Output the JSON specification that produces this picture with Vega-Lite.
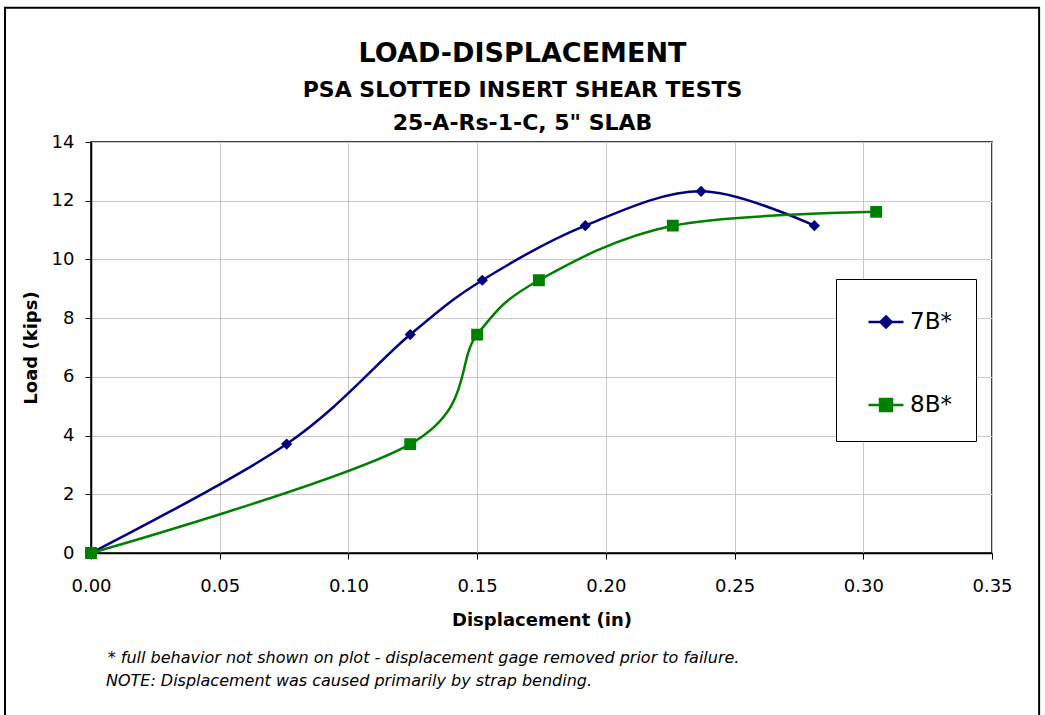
{
  "$schema": "https://vega.github.io/schema/vega-lite/v6.json",
  "autosize": {"type": "none"},
  "padding": {"left": 91, "top": 142, "right": 53, "bottom": 162},
  "width": 901,
  "height": 411,
  "background": "white",
  "config": {
    "font": "DejaVu Sans",
    "view": {"stroke": "black", "strokeWidth": 1.5},
    "axis": {
      "labelFont": "DejaVu Sans",
      "labelFontSize": 18,
      "labelColor": "black",
      "titleFont": "DejaVu Sans",
      "titleFontSize": 18,
      "titleFontWeight": "bold",
      "titleColor": "black",
      "domainColor": "black",
      "domainWidth": 1.5,
      "tickColor": "black",
      "tickSize": 6,
      "gridColor": "#c8c8c8",
      "gridWidth": 1
    }
  },
  "title": {
    "text": "LOAD-DISPLACEMENT",
    "subtitle": ["PSA SLOTTED INSERT SHEAR TESTS", "25-A-Rs-1-C, 5\" SLAB"],
    "anchor": "middle",
    "frame": "group",
    "dx": -19,
    "font": "DejaVu Sans",
    "fontSize": 27,
    "fontWeight": "bold",
    "color": "black",
    "subtitleFont": "DejaVu Sans",
    "subtitleFontSize": 22,
    "subtitleFontWeight": "bold",
    "subtitleColor": "black",
    "subtitleLineHeight": 33,
    "subtitlePadding": 12,
    "offset": -128
  },
  "data": {
    "values": [
      {"series": "7B*", "disp": 0.0, "load": 0.0},
      {"series": "7B*", "disp": 0.076, "load": 3.71},
      {"series": "7B*", "disp": 0.124, "load": 7.44},
      {"series": "7B*", "disp": 0.152, "load": 9.29},
      {"series": "7B*", "disp": 0.192, "load": 11.15},
      {"series": "7B*", "disp": 0.237, "load": 12.32},
      {"series": "7B*", "disp": 0.281, "load": 11.15},
      {"series": "8B*", "disp": 0.0, "load": 0.0},
      {"series": "8B*", "disp": 0.124, "load": 3.71},
      {"series": "8B*", "disp": 0.150, "load": 7.44},
      {"series": "8B*", "disp": 0.174, "load": 9.29},
      {"series": "8B*", "disp": 0.226, "load": 11.15},
      {"series": "8B*", "disp": 0.305, "load": 11.62}
    ]
  },
  "layer": [
    {
      "mark": {"type": "line", "interpolate": "cardinal", "tension": 0, "strokeWidth": 2.5},
      "encoding": {
        "x": {
          "field": "disp", "type": "quantitative",
          "scale": {"domain": [0, 0.35], "nice": false, "zero": false},
          "axis": {"title": "Displacement (in)", "values": [0, 0.05, 0.1, 0.15, 0.2, 0.25, 0.3, 0.35], "format": ".2f", "labelPadding": 18, "titlePadding": 16, "labelFlush": false}
        },
        "y": {
          "field": "load", "type": "quantitative",
          "scale": {"domain": [0, 14], "nice": false},
          "axis": {"title": "Load (kips)", "values": [0, 2, 4, 6, 8, 10, 12, 14], "labelPadding": 11, "titlePadding": 11, "labelFlush": false}
        },
        "color": {
          "field": "series", "type": "nominal",
          "scale": {"domain": ["7B*", "8B*"], "range": ["#000080", "#008000"]},
          "legend": {
            "orient": "none",
            "legendX": 745,
            "legendY": 137,
            "title": null,
            "strokeColor": "black",
            "fillColor": "white",
            "padding": 24,
            "rowPadding": 52,
            "labelFont": "DejaVu Sans",
            "labelFontSize": 23,
            "labelColor": "black",
            "labelOffset": 5,
            "symbolOffset": 7,
            "symbolSize": 1225,
            "symbolStrokeWidth": 2.5
          }
        }
      }
    },
    {
      "mark": {"type": "point", "filled": true, "opacity": 1, "strokeWidth": 0, "size": 1225},
      "encoding": {
        "x": {"field": "disp", "type": "quantitative"},
        "y": {"field": "load", "type": "quantitative"},
        "fill": {
          "field": "series", "type": "nominal",
          "scale": {"domain": ["7B*", "8B*"], "range": ["#000080", "#008000"]}
        },
        "shape": {
          "field": "series", "type": "nominal",
          "scale": {"domain": ["7B*", "8B*"], "range": ["M-1,0L1,0M0,-0.32L0.32,0L0,0.32L-0.32,0Z", "M-1,0L1,0M-0.34,-0.34L0.34,-0.34L0.34,0.34L-0.34,0.34Z"]}
        }
      }
    },
    {
      "data": {"values": [{}]},
      "mark": {"type": "text", "align": "left", "baseline": "middle", "fontStyle": "italic", "fontSize": 16, "font": "DejaVu Sans", "color": "black"},
      "encoding": {
        "x": {"datum": 0.0065},
        "y": {"datum": -3.58},
        "text": {"value": "* full behavior not shown on plot - displacement gage removed prior to failure."}
      }
    },
    {
      "data": {"values": [{}]},
      "mark": {"type": "text", "align": "left", "baseline": "middle", "fontStyle": "italic", "fontSize": 16, "font": "DejaVu Sans", "color": "black"},
      "encoding": {
        "x": {"datum": 0.0058},
        "y": {"datum": -4.36},
        "text": {"value": "NOTE: Displacement was caused primarily by strap bending."}
      }
    },
    {
      "data": {"values": [{}]},
      "mark": {"type": "rect", "fill": null, "fillOpacity": 0, "stroke": "black", "strokeWidth": 2},
      "encoding": {
        "x": {"datum": -0.0334},
        "x2": {"datum": 0.3683},
        "y": {"datum": 18.57},
        "y2": {"datum": -6}
      }
    }
  ]
}
